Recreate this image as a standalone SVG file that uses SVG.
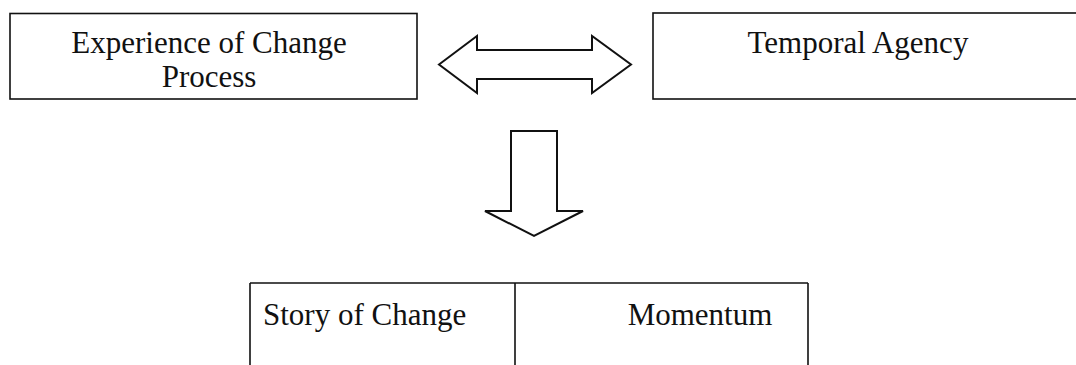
<svg xmlns="http://www.w3.org/2000/svg" width="1076" height="365" viewBox="0 0 1076 365">
  <style>
    .box { fill: none; stroke: #111; stroke-width: 1.6; }
    .arrow { fill: #fff; stroke: #111; stroke-width: 2; stroke-linejoin: miter; }
    .label { font-family: "Liberation Serif", "Times New Roman", serif; font-size: 31px; fill: #111; }
  </style>
  <rect width="1076" height="365" fill="#fff"/>

  <g id="experience-of-change-process">
    <rect class="box" x="10" y="13.5" width="407" height="85.5"/>
    <text class="label" x="209" y="53" text-anchor="middle">Experience of Change</text>
    <text class="label" x="209" y="87" text-anchor="middle">Process</text>
  </g>

  <g id="temporal-agency">
    <rect class="box" x="653" y="13" width="430" height="86"/>
    <text class="label" x="858" y="53" text-anchor="middle">Temporal Agency</text>
  </g>

  <g id="connectors">
    <!-- two-way block arrow between the upper boxes -->
    <polygon class="arrow" points="439,64.5 477,36 477,50 592,50 592,36 631,64.5 592,93 592,79 477,79 477,93"/>
    <!-- block arrow down to the lower table -->
    <polygon class="arrow" points="511,131 557,131 557,211 583,211 534,236 485,211 511,211"/>
  </g>

  <g id="story-of-change-momentum">
    <path class="box" d="M250,283 H808 M250,283 V366 M515,283 V366 M808,283 V366"/>
  </g>
  <g id="story-of-change">
    <text class="label" x="263" y="325">Story of Change</text>
  </g>
  <g id="momentum">
    <text class="label" x="700" y="325" text-anchor="middle">Momentum</text>
  </g>
</svg>
